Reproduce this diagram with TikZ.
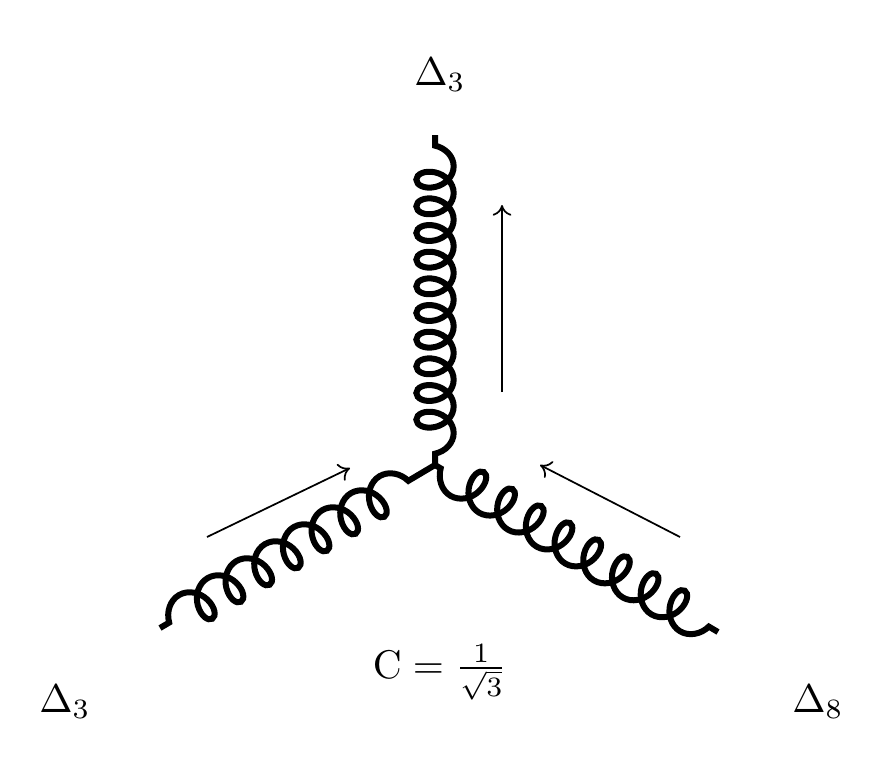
\documentclass[tikz,border=0pt]{standalone}
\usetikzlibrary{decorations.pathmorphing,arrows.meta}
\begin{document}
\begin{tikzpicture}[x=0.75pt,y=-0.75pt,
  gluon/.style={line width=4.5pt,decorate,decoration={coil,amplitude=14pt,segment length=#1,aspect=0.75,pre length=8pt,post length=4pt}},
  mom/.style={line width=1.3pt,-{To[length=8pt,width=14pt]}},
  lab/.style={scale=3,transform shape}]
\useasboundingbox (0,0) rectangle (880,760);
\coordinate (v) at (435,465);
\coordinate (t) at (435,135);
\coordinate (l) at (160,628);
\coordinate (r) at (718,632);
\draw[gluon=20pt] (t) -- (v);
\draw[gluon=25pt] (l) -- (v);
\draw[gluon=25pt] (r) -- (v);
\coordinate (a1) at (502,392); \coordinate (a2) at (502,205);
\coordinate (b1) at (207,537); \coordinate (b2) at (350,468);
\coordinate (c1) at (680,537); \coordinate (c2) at (540,465);
\draw[mom] (a1) -- (a2);
\draw[mom] (b1) -- (b2);
\draw[mom] (c1) -- (c2);
\node[lab] (n1) at (440,75) {$\Delta_3$};
\node[lab] (n2) at (65,702) {$\Delta_3$};
\node[lab] (n3) at (818,702) {$\Delta_8$};
\node[lab] (n4) at (440,672) {$\mathrm{C}=\frac{1}{\sqrt{3}}$};
\end{tikzpicture}
\end{document}
